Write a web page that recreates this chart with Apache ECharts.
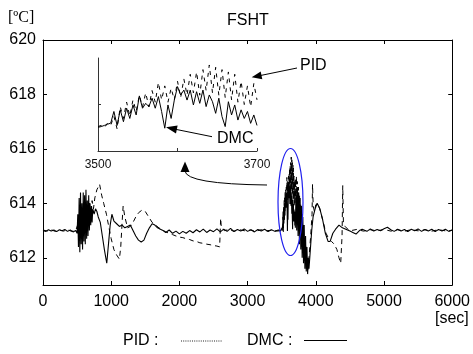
<!DOCTYPE html>
<html><head><meta charset="utf-8">
<script src="https://cdn.jsdelivr.net/npm/echarts@6/dist/echarts.min.js"></script>
<style>html,body{margin:0;padding:0;background:#fff}#c{width:473px;height:354px}</style>
</head><body><div id="c"></div>
<script>
// ---- data ----
const xTickValues = [0, 1000, 2000, 3000, 4000, 5000, 6000];
const yTickValues = [612, 614, 616, 618, 620];
const insetXLabelValues = [3500, 3700];
const insetXTickValues = [3500, 3600, 3700];
const insetYTickValues = [614];

// DMC : solid line  [time sec, temperature ºC]
const dmcData = [
[0,613.00],[40,612.97],[80,613.03],[120,612.98],[160,613.02],[200,612.96],[240,613.03],[280,612.99],[320,613.04],[360,612.97],[400,613.02],[440,612.95],[480,613.00],
[500,612.9],[510,613.6],[520,612.4],[530,614.2],[540,612.2],[550,614.4],[560,612.5],[570,614.0],[580,612.3],[590,614.4],[600,612.6],[610,614.3],[620,612.5],[630,614.5],[640,612.7],[650,614.1],[660,612.8],[670,614.3],[680,613.0],[690,614.0],[700,613.2],[710,613.9],[720,613.3],[730,613.8],[750,613.6],[770,613.8],[790,613.7],[810,613.5],[840,613.3],[870,612.8],[900,612.3],[935,611.8],[960,612.5],[985,613.2],[1010,613.6],[1040,613.35],[1080,613.25],[1120,613.15],[1160,613.2],[1200,613.1],[1240,613.15],[1280,613.2],[1320,613.0],[1360,612.8],[1400,612.65],[1440,612.58],[1480,612.65],[1520,612.9],[1560,613.1],[1600,613.25],[1640,613.2],[1680,613.1],[1720,613.05],
[1760,613.0],[1800,612.93],[1850,613.02],[1900,612.9],[1950,612.98],[2000,612.88],[2050,612.97],[2100,612.9],[2150,613.0],[2200,612.92],[2250,613.03],[2300,612.95],[2350,613.05],[2400,612.93],[2450,613.02],[2500,612.96],[2550,613.06],[2600,612.95],[2650,613.05],[2700,612.97],[2750,613.08],[2800,612.96],[2850,613.04],[2900,612.98],[2950,613.06],[3000,612.97],[3050,613.03],[3100,612.95],[3150,613.04],[3200,612.98],[3250,613.05],[3300,612.96],[3350,613.03],[3400,612.97],[3450,613.02],[3480,612.98],
[3500,613.02],[3504,613.05],[3508,613.1],[3512,613.15],[3516,613.2],[3520,613.7],[3524,613.1],[3528,613.77],[3532,613.26],[3536,613.84],[3540,613.4],[3544,613.98],[3548,613.55],[3552,614.37],[3556,613.84],[3560,614.05],[3564,613.91],[3568,614.27],[3572,613.84],[3576,614.34],[3580,613.7],[3584,612.98],[3588,613.98],[3592,613.4],[3596,614.19],[3600,614.77],[3604,614.41],[3608,614.62],[3612,614.19],[3616,614.62],[3620,613.98],[3624,614.55],[3628,614.05],[3632,614.62],[3636,613.91],[3640,614.41],[3644,614.12],[3648,613.62],[3652,614.27],[3656,613.48],[3660,613.05],[3664,614.12],[3668,613.55],[3672,613.98],[3676,613.33],[3680,613.77],[3684,613.4],[3688,613.7],[3692,613.19],[3696,613.55],[3700,613.1],
[3710,614.4],[3720,613.0],[3730,614.6],[3740,612.8],[3750,614.4],[3760,612.5],[3770,614.2],[3780,612.3],[3790,613.9],[3800,612.0],[3810,613.5],[3820,611.8],[3830,613.2],[3840,611.6],[3850,612.8],[3860,611.5],[3870,612.4],[3880,611.4],[3890,612.0],[3900,611.6],[3920,612.3],[3940,613.0],[3960,613.5],[3990,613.8],[4020,614.0],[4060,613.8],[4100,613.4],[4140,612.9],[4180,612.6],[4210,612.6],[4250,612.9],[4290,613.05],[4340,613.2],[4390,613.1],[4440,613.05],[4500,612.98],[4550,612.92],[4590,612.87],[4640,613.0],[4680,613.05],
[4700,613.05],[4750,612.97],[4800,613.06],[4850,612.98],[4900,613.04],[4950,612.99],[5000,613.07],[5050,613.12],[5100,613.03],[5150,612.97],[5200,613.05],[5250,612.98],[5300,613.04],[5350,612.96],[5400,613.05],[5450,612.99],[5500,613.06],[5550,612.97],[5600,613.04],[5650,612.98],[5700,613.05],[5750,612.96],[5800,613.04],[5850,612.98],[5900,613.05],[5950,612.97],[6000,613.02]
];

// PID : dashed line  [time sec, temperature ºC]
const pidData = [
[0,613.02],[60,612.98],[120,613.03],[180,612.97],[240,613.02],[300,612.98],[360,613.03],[420,612.97],[480,613.0],
[520,613.3],[540,612.8],[560,613.6],[580,612.9],[600,613.8],[620,613.0],[640,613.9],[660,613.2],[680,614.0],[700,613.4],[720,614.1],[740,613.8],[760,614.2],[790,614.5],[830,614.7],[860,614.3],[890,614.0],[930,613.6],[960,613.2],[1000,612.7],[1040,612.3],[1080,612.1],[1120,611.95],[1140,612.4],[1160,613.3],[1175,613.9],[1200,613.5],[1240,613.1],[1280,613.15],[1320,613.3],[1360,613.5],[1400,613.65],[1450,613.75],[1500,613.7],[1550,613.5],[1600,613.3],[1650,613.2],[1700,613.1],[1750,613.02],
[1800,612.95],[1850,612.9],[1900,612.85],[1950,612.8],[2000,612.76],[2050,612.74],[2100,612.7],[2150,612.67],[2200,612.62],[2250,612.6],[2300,612.55],[2350,612.53],[2400,612.5],[2450,612.48],[2500,612.45],[2550,612.43],[2590,612.4],[2605,613.45],[2615,613.1],[2660,613.0],
[2720,613.03],[2800,612.98],[2880,613.03],[2960,612.99],[3040,613.02],[3120,612.98],[3200,613.03],[3280,612.99],[3360,613.02],[3440,612.98],[3480,613.0],
[3500,613.05],[3504,613.1],[3508,613.0],[3512,613.2],[3516,613.1],[3520,613.5],[3524,612.95],[3528,613.9],[3532,613.4],[3536,614.1],[3540,613.5],[3544,614.2],[3548,613.7],[3552,614.4],[3556,613.9],[3560,614.5],[3564,613.9],[3568,614.6],[3572,614.1],[3576,614.95],[3580,614.2],[3584,614.8],[3588,614.1],[3592,614.7],[3596,614.2],[3600,615.0],[3604,614.3],[3608,615.1],[3612,614.4],[3616,615.3],[3620,614.5],[3624,615.4],[3628,614.4],[3632,615.5],[3636,614.6],[3640,615.7],[3644,614.5],[3648,615.6],[3652,614.4],[3656,615.5],[3660,614.3],[3664,615.4],[3668,614.2],[3672,615.3],[3676,614.1],[3680,615.0],[3684,614.0],[3688,614.8],[3692,613.9],[3696,614.9],[3700,614.2],
[3704,614.9],[3710,614.0],[3716,615.0],[3722,613.8],[3730,614.8],[3738,613.4],[3746,614.6],[3754,613.0],[3762,614.3],[3770,612.7],[3780,614.0],[3790,612.4],[3800,613.6],[3810,612.2],[3820,613.2],[3830,611.9],[3845,612.6],[3860,611.6],[3880,611.5],[3900,612.0],[3925,612.8],[3945,613.6],[3952,614.7],[3962,613.9],[3980,613.7],[4000,613.95],[4030,614.0],[4070,613.7],[4110,613.3],[4150,612.9],[4190,612.7],[4230,612.6],[4270,612.5],[4310,612.3],[4340,612.0],[4365,611.8],[4385,612.8],[4395,614.65],[4405,613.3],[4430,613.15],[4470,613.05],[4520,613.0],
[4600,613.04],[4700,612.98],[4800,613.03],[4900,612.99],[5000,613.04],[5100,612.98],[5200,613.03],[5300,612.98],[5400,613.03],[5500,612.99],[5600,613.03],[5700,612.98],[5800,613.03],[5900,612.99],[6000,613.01]
];

const insetMin = 3500, insetMax = 3700;
const dmcInset = dmcData.filter(p => p[0] >= insetMin && p[0] <= insetMax);
const pidInset = pidData.filter(p => p[0] >= insetMin && p[0] <= insetMax);

// ---- chart ----
const FONT = '"Liberation Sans", Arial, sans-serif';
const chart = echarts.init(document.getElementById('c'), null, {renderer: 'canvas'});
const plain = v => String(v);

function mainX(pos, showLabel) {
  return {
    type: 'value', gridIndex: 0, position: pos, min: 0, max: 6000, interval: 1000,
    axisLine: {show: true, onZero: false, lineStyle: {color: '#000', width: 1}},
    axisTick: {show: true, inside: true, length: 4, lineStyle: {color: '#000'}},
    axisLabel: {show: showLabel, color: '#000', fontSize: 16, fontFamily: FONT, margin: 9, formatter: plain},
    splitLine: {show: false}
  };
}
function mainY(pos, showLabel) {
  return {
    type: 'value', gridIndex: 0, position: pos, min: 611, max: 620,
    axisLine: {show: true, onZero: false, lineStyle: {color: '#000', width: 1}},
    axisTick: {show: true, inside: true, length: 4, customValues: yTickValues, lineStyle: {color: '#000'}},
    axisLabel: {show: showLabel, color: '#000', fontSize: 16, fontFamily: FONT, margin: 7, customValues: yTickValues, formatter: plain},
    splitLine: {show: false}
  };
}

function arrowHead(tip, b1, b2) {
  return {type: 'polygon', shape: {points: [tip, b1, b2]}, style: {fill: '#000'}, z: 100};
}

const option = {
  animation: false,
  backgroundColor: '#fff',
  title: {
    text: 'FSHT', left: 222, top: 8,
    textStyle: {fontSize: 16, fontWeight: 'normal', color: '#000', fontFamily: FONT}
  },
  grid: [
    {left: 43, top: 40, width: 410, height: 245, containLabel: false},
    {left: 98, top: 58, width: 159, height: 93, containLabel: false}
  ],
  xAxis: [
    mainX('bottom', true),
    mainX('top', false),
    {
      type: 'value', gridIndex: 1, position: 'bottom', min: insetMin, max: insetMax,
      axisLine: {show: true, onZero: false, lineStyle: {color: '#333', width: 1}},
      axisTick: {show: true, inside: true, length: 3, customValues: insetXTickValues, lineStyle: {color: '#333'}},
      axisLabel: {show: true, color: '#111', fontSize: 12, fontFamily: FONT, margin: 8, customValues: insetXLabelValues, formatter: plain},
      splitLine: {show: false}
    }
  ],
  yAxis: [
    mainY('left', true),
    mainY('right', false),
    {
      type: 'value', gridIndex: 1, position: 'left', min: 612, max: 616,
      axisLine: {show: true, onZero: false, lineStyle: {color: '#333', width: 1}},
      axisTick: {show: true, inside: true, length: 3, customValues: insetYTickValues, lineStyle: {color: '#333'}},
      axisLabel: {show: false},
      splitLine: {show: false}
    }
  ],
  series: [
    {type: 'line', name: 'PID', xAxisIndex: 0, yAxisIndex: 0, data: pidData, symbol: 'none',
     lineStyle: {color: '#000', width: 1, type: [5, 4]}},
    {type: 'line', name: 'DMC', xAxisIndex: 0, yAxisIndex: 0, data: dmcData, symbol: 'none',
     lineStyle: {color: '#000', width: 1.1}},
    {type: 'line', name: 'PID', xAxisIndex: 2, yAxisIndex: 2, data: pidInset, symbol: 'none', clip: true,
     lineStyle: {color: '#000', width: 1, type: [4, 5]}},
    {type: 'line', name: 'DMC', xAxisIndex: 2, yAxisIndex: 2, data: dmcInset, symbol: 'none', clip: true,
     lineStyle: {color: '#000', width: 1}}
  ],
  graphic: [
    {type: 'text', x: 8, y: 18, style: {text: '[ºC]', font: '16px "Liberation Serif", "Times New Roman", serif', fill: '#000', verticalAlign: 'middle'}},
    {type: 'text', x: 435, y: 319, style: {text: '[sec]', font: '16px ' + FONT, fill: '#000', verticalAlign: 'middle'}},
    // legend
    {type: 'text', x: 123, y: 341, style: {text: 'PID :', font: '16px ' + FONT, fill: '#000', verticalAlign: 'middle'}},
    {type: 'line', shape: {x1: 181, y1: 341, x2: 222, y2: 341}, style: {stroke: '#222', lineWidth: 1, lineDash: [1, 1.2]}},
    {type: 'text', x: 247, y: 341, style: {text: 'DMC :', font: '16px ' + FONT, fill: '#000', verticalAlign: 'middle'}},
    {type: 'line', shape: {x1: 304, y1: 340.5, x2: 347, y2: 340.5}, style: {stroke: '#000', lineWidth: 1}},
    // annotations
    {type: 'text', x: 300, y: 66, style: {text: 'PID', font: '16px ' + FONT, fill: '#000', verticalAlign: 'middle'}, z: 100},
    {type: 'line', shape: {x1: 297, y1: 68, x2: 260, y2: 75.6}, style: {stroke: '#000', lineWidth: 1}, z: 100},
    arrowHead([251.7, 77.3], [262.3, 79.2], [260.7, 71.4]),
    {type: 'text', x: 217, y: 139, style: {text: 'DMC', font: '16px ' + FONT, fill: '#000', verticalAlign: 'middle'}, z: 100},
    {type: 'line', shape: {x1: 212, y1: 136.7, x2: 175, y2: 129.2}, style: {stroke: '#000', lineWidth: 1}, z: 100},
    arrowHead([166, 127.3], [176, 133.4], [177.6, 125.6]),
    {type: 'bezierCurve', shape: {x1: 185, y1: 171, cpx1: 186, cpy1: 184, x2: 267, y2: 185}, style: {stroke: '#000', lineWidth: 1, fill: null}, z: 100},
    arrowHead([185, 161.5], [180.5, 172], [189.5, 172]),
    {type: 'ellipse', shape: {cx: 290.5, cy: 202, rx: 12.5, ry: 53.5}, style: {stroke: '#2020ee', lineWidth: 1.2, fill: null}, z: 100}
  ]
};
chart.setOption(option);
</script>
</body></html>
